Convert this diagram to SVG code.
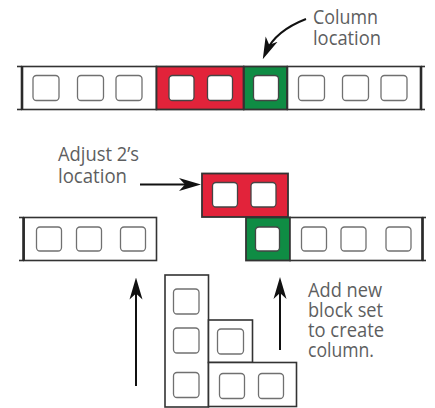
<svg xmlns="http://www.w3.org/2000/svg" width="435" height="408" viewBox="0 0 435 408">
<style>
.box{fill:#fff;stroke:#333;stroke-width:1.6}
.red{fill:#e2233a;stroke:#333;stroke-width:1.8}
.grn{fill:#0f8c44;stroke:#333;stroke-width:1.8}
.sq{fill:#fff;stroke:#707070;stroke-width:1.3}
.sqd{fill:#fff;stroke:#444;stroke-width:1.3}
.cap{stroke:#2a2a2a;stroke-width:2.6}
.ext{stroke:#333;stroke-width:1.6}
.lbl{font-family:"Open Sans","Noto Sans",sans-serif;font-size:19.5px;fill:#5d5e60}
.arr{fill:none;stroke:#111;stroke-width:2}
</style>
<defs>
<marker id="ah" viewBox="-14 -7 22 14" refX="0" refY="0" markerWidth="22" markerHeight="14" markerUnits="userSpaceOnUse" orient="auto">
<path d="M8,0 L-14,-6.5 L-8,0 L-14,6.5 Z" fill="#111"/>
</marker>
</defs>

<g id="top-row">
<line class="ext" x1="17" y1="66.5" x2="22" y2="66.5"/>
<line class="ext" x1="17" y1="109.5" x2="22" y2="109.5"/>
<line class="ext" x1="421" y1="66.5" x2="425" y2="66.5"/>
<line class="ext" x1="421" y1="109.5" x2="425" y2="109.5"/>
<g id="top-left-set">
<rect class="box" x="22" y="66.5" width="134.5" height="43"/>
<rect class="sq" x="33" y="75.5" width="26" height="25" rx="3.5"/>
<rect class="sq" x="77.5" y="75.5" width="26" height="25" rx="3.5"/>
<rect class="sq" x="116" y="75.5" width="26" height="25" rx="3.5"/>
</g>
<g id="top-red-set">
<rect class="red" x="156.5" y="66.5" width="87" height="43"/>
<rect class="sqd" x="169" y="75.5" width="25" height="25" rx="3.5"/>
<rect class="sqd" x="207.5" y="75.5" width="25" height="25" rx="3.5"/>
</g>
<g id="top-green-set">
<rect class="grn" x="244" y="66.5" width="43" height="43"/>
<rect class="sqd" x="253.5" y="75.5" width="25" height="25" rx="3.5"/>
</g>
<g id="top-right-set">
<rect class="box" x="287.5" y="66.5" width="133.5" height="43"/>
<rect class="sq" x="298.5" y="75.5" width="26" height="25" rx="3.5"/>
<rect class="sq" x="342.5" y="75.5" width="26" height="25" rx="3.5"/>
<rect class="sq" x="381" y="75.5" width="26" height="25" rx="3.5"/>
</g>
<line class="cap" x1="22" y1="66" x2="22" y2="110"/>
<line class="cap" x1="421" y1="66" x2="421" y2="110"/>
</g>

<g id="mid-row">
<line class="ext" x1="19" y1="217.5" x2="24" y2="217.5"/>
<line class="ext" x1="19" y1="260.5" x2="24" y2="260.5"/>
<line class="ext" x1="422.5" y1="217.5" x2="426" y2="217.5"/>
<line class="ext" x1="422.5" y1="260.5" x2="426" y2="260.5"/>
<g id="mid-left-set">
<rect class="box" x="24" y="217.5" width="132.5" height="43"/>
<rect class="sq" x="36.5" y="227" width="25" height="24" rx="3.5"/>
<rect class="sq" x="76.5" y="227" width="25" height="24" rx="3.5"/>
<rect class="sq" x="120.5" y="227" width="25" height="24" rx="3.5"/>
</g>
<g id="mid-red-set">
<rect class="red" x="202" y="173.5" width="86" height="43.5"/>
<rect class="sqd" x="212.5" y="182.5" width="25" height="24.5" rx="3.5"/>
<rect class="sqd" x="251" y="182.5" width="25" height="24.5" rx="3.5"/>
</g>
<g id="mid-green-set">
<rect class="grn" x="246" y="217.5" width="44" height="43"/>
<rect class="sqd" x="255.5" y="227" width="24" height="24" rx="3.5"/>
</g>
<g id="mid-right-set">
<rect class="box" x="290" y="217.5" width="132.5" height="43"/>
<rect class="sq" x="301.5" y="227" width="25" height="24" rx="3.5"/>
<rect class="sq" x="341" y="227" width="25" height="24" rx="3.5"/>
<rect class="sq" x="386" y="227" width="25" height="24" rx="3.5"/>
</g>
<line class="cap" x1="23.5" y1="217" x2="23.5" y2="261"/>
<line class="cap" x1="422.5" y1="217" x2="422.5" y2="261"/>
</g>

<g id="bottom-blocks">
<g id="tall-set">
<rect class="box" x="165" y="275" width="43.5" height="132"/>
<rect class="sq" x="173.5" y="289" width="25.5" height="25" rx="3.5"/>
<rect class="sq" x="173.5" y="328" width="25.5" height="25" rx="3.5"/>
<rect class="sq" x="173.5" y="372.5" width="25.5" height="25" rx="3.5"/>
</g>
<g id="small-set">
<rect class="box" x="208.5" y="320" width="44" height="42.5"/>
<rect class="sq" x="217.5" y="329" width="26" height="25" rx="3.5"/>
</g>
<g id="wide-set">
<rect class="box" x="208.5" y="362.5" width="88" height="44"/>
<rect class="sq" x="219.5" y="373.5" width="25" height="25" rx="3.5"/>
<rect class="sq" x="258.5" y="373.5" width="25" height="25" rx="3.5"/>
</g>
</g>

<g id="connectors">
<path class="arr" d="M306,19 C288,26 273,36 266,52" marker-end="url(#ah)"/>
<line class="arr" x1="140" y1="184.5" x2="193" y2="184.5" marker-end="url(#ah)"/>
<line class="arr" x1="136" y1="386" x2="136" y2="285.5" marker-end="url(#ah)"/>
<line class="arr" x1="280" y1="350" x2="280" y2="285" marker-end="url(#ah)"/>
</g>

<g id="labels">
<text class="lbl" x="313" y="24" textLength="65" lengthAdjust="spacingAndGlyphs">Column</text>
<text class="lbl" x="313" y="45" textLength="68" lengthAdjust="spacingAndGlyphs">location</text>
<text class="lbl" x="58" y="161" textLength="81" lengthAdjust="spacingAndGlyphs">Adjust 2’s</text>
<text class="lbl" x="58" y="183" textLength="69" lengthAdjust="spacingAndGlyphs">location</text>
<text class="lbl" x="308" y="297" textLength="74" lengthAdjust="spacingAndGlyphs">Add new</text>
<text class="lbl" x="308" y="317" textLength="75" lengthAdjust="spacingAndGlyphs">block set</text>
<text class="lbl" x="308" y="337" textLength="76" lengthAdjust="spacingAndGlyphs">to create</text>
<text class="lbl" x="308" y="357" textLength="66" lengthAdjust="spacingAndGlyphs">column.</text>
</g>
</svg>
